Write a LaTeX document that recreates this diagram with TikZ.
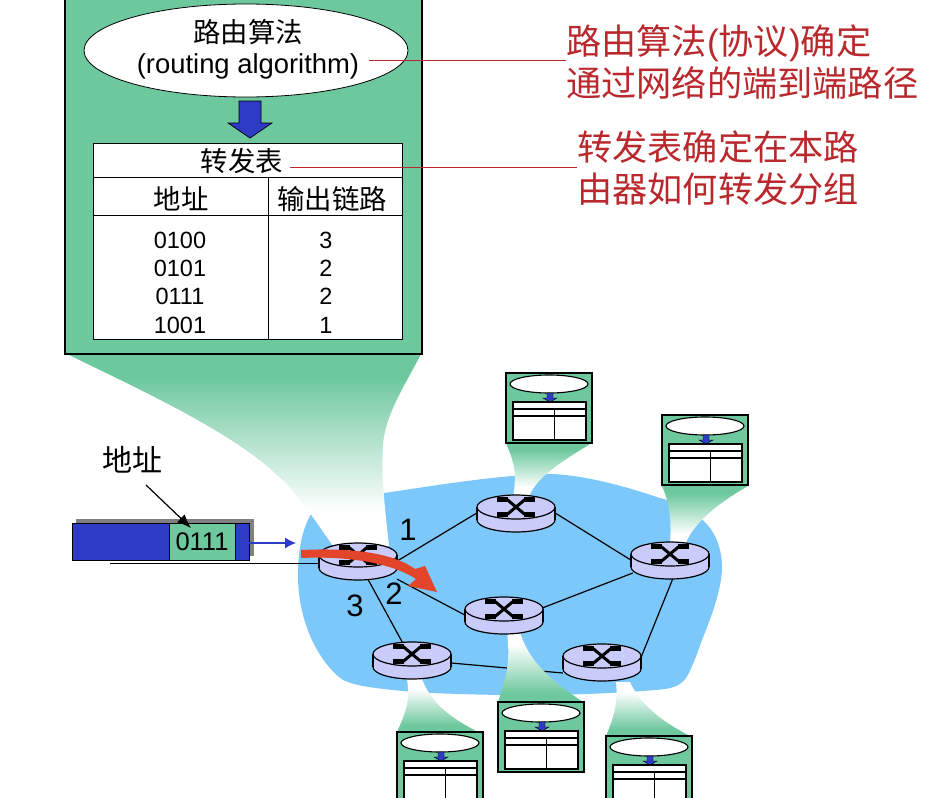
\documentclass[tikz,border=0pt]{standalone}
\usepackage{fontspec}
\setmainfont{Liberation Sans}
\newfontfamily\cjk{Noto Sans CJK SC}
\usepackage{tikz}
\usetikzlibrary{
  calc,%
  shapes.geometric,%
  arrows,
  arrows.meta,
  positioning
}
\definecolor{boxgreen}{HTML}{6DC89E}
\definecolor{cloudblue}{HTML}{7DC8FA}
\definecolor{routerlilac}{HTML}{C9CBFA}
\definecolor{packetblue}{HTML}{2E3BC4}
\definecolor{noteRed}{HTML}{B8282C}
\definecolor{flowred}{HTML}{E2452A}
\pgfdeclareverticalshading{fadedown}{100bp}{color(0bp)=(white); color(34bp)=(white); color(69bp)=(boxgreen); color(100bp)=(boxgreen)}
\pgfdeclareverticalshading{fadeup}{100bp}{color(0bp)=(boxgreen); color(31bp)=(boxgreen); color(66bp)=(white); color(100bp)=(white)}
\tikzset{>=latex}
\tikzset{tablebox/.style={draw=black, fill=boxgreen, line width=1.5pt}}
\tikzset{blockarrow/.style={draw=black, fill=packetblue, line width=0.7pt}}
\tikzset{link/.style={line width=1.2pt}}
\tikzset{leader/.style={noteRed, line width=0.9pt}}
\tikzset{funneldown/.style={shading=fadedown}}
\tikzset{funnelup/.style={shading=fadeup}}
\tikzset{notetext/.style={noteRed, align=left, inner sep=0pt, font=\fontsize{35.2}{42}\selectfont}}
\tikzset{cell/.style={inner sep=0pt, font=\fontsize{23.5}{28}\selectfont}}
\tikzset{cjkcell/.style={inner sep=0pt, font=\fontsize{27.4}{30}\selectfont\cjk}}
\tikzset{portnum/.style={inner sep=0pt, font=\fontsize{31}{34}\selectfont}}
\tikzset{router/.pic={
  \draw[line width=1.2pt, fill=routerlilac] (0,7) ellipse [x radius=39, y radius=12];
  \fill[routerlilac] (-39,-6) rectangle (39,7);
  \draw[line width=1.2pt] (-39,-6) -- (-39,7) (39,-6) -- (39,7);
  \draw[line width=1.2pt, fill=routerlilac] (0,-6) ellipse [x radius=39, y radius=12];
  \draw[line width=3pt] (-9,-13.5) -- (9,1.5) (-9,1.5) -- (9,-13.5);
  \draw[line width=4.6pt] (-19,-13.5) -- (-8,-13.5) (8,-13.5) -- (19,-13.5) (-19,1.5) -- (-8,1.5) (8,1.5) -- (19,1.5);
}}
\tikzset{smalltable/.pic={
  \draw[tablebox] (0,0) rectangle (86,70);
  \draw[fill=white, line width=1.1pt] (43,11) ellipse [x radius=39, y radius=9];
  \draw[blockarrow, line width=0.4pt] (41,20) -- (47,20) -- (47,25) -- (51,25) -- (44,29) -- (37,25) -- (41,25) -- cycle;
  \draw[fill=white, line width=1.2pt] (7,29) rectangle (80,67);
  \draw[line width=1.1pt] (7,36) -- (80,36) (7,43) -- (80,43) (48.5,36) -- (48.5,67);
}}

\begin{document}
\begin{tikzpicture}[x=1pt, y=-1pt]
  \useasboundingbox (0,0) rectangle (932,798);
  \clip (0,0) rectangle (932,798);

  % network cloud
  \fill[cloudblue] (298,575) .. controls (298,550) and (302,530) .. (311,514)
    .. controls (335,503) and (360,497) .. (384,493)
    .. controls (420,488) and (500,474) .. (553,474)
    .. controls (590,476) and (630,488) .. (660,498)
    .. controls (680,503) and (692,511) .. (700,518)
    .. controls (716,530) and (722,550) .. (722,567)
    .. controls (722,590) and (710,620) .. (702,640)
    .. controls (695,660) and (690,672) .. (686,678)
    .. controls (680,686) and (672,689) .. (655,690)
    .. controls (620,693) and (560,696) .. (500,695)
    .. controls (450,694) and (420,693) .. (393,690)
    .. controls (375,688) and (355,686) .. (343,680)
    .. controls (325,668) and (298,630) .. (298,575) -- cycle;

  \node[minimum width=78pt, minimum height=36pt] (routerA) at (358,561) {};
  \node[minimum width=78pt, minimum height=36pt] (routerB) at (516,513) {};
  \node[minimum width=78pt, minimum height=36pt] (routerC) at (670,560) {};
  \node[minimum width=78pt, minimum height=36pt] (routerD) at (504,615) {};
  \node[minimum width=78pt, minimum height=36pt] (routerE) at (412,660) {};
  \node[minimum width=78pt, minimum height=36pt] (routerF) at (602,662) {};

  \draw[link] (routerA.east) -- (routerB.west); %
  \draw[link] (routerA.south east) -- (routerD.west); %
  \draw[link] (routerA.center) -- (routerE.center); %
  \draw[link] (routerB.east) -- (routerC.west); %
  \draw[link] ($(routerC.west)+(2,13)$) -- ($(routerD.east)+(-1,-7)$); %
  \draw[link] ($(routerC.south)+(3,0)$) -- ($(routerF.east)+(0,-5)$); %
  \draw[link] ($(routerE.east)+(0,3)$) -- ($(routerF.west)+(0,11)$); %

  % fading cones between routers and their tables
  \path[funneldown] (67,354) .. controls (130,385) and (230,430) .. (277,475)
    .. controls (295,490) and (315,520) .. (333,546) -- (389,546)
    .. controls (385,510) and (381,475) .. (383,445)
    .. controls (385,415) and (405,385) .. (421,354) -- cycle;
  \path[funneldown] (506,443) .. controls (512,458) and (518,470) .. (513,497) -- (529,497)
    .. controls (535,480) and (555,465) .. (592,443) -- cycle;
  \path[funneldown] (662,486) .. controls (668,500) and (672,515) .. (670,545) -- (685,545)
    .. controls (692,525) and (715,505) .. (748,486) -- cycle;
  \path[funnelup] (507,632) -- (520,632) .. controls (528,660) and (550,680) .. (583,702)
    -- (498,702) .. controls (505,680) and (511,665) .. (507,632) -- cycle;
  \path[funnelup] (407,679) -- (422,679) .. controls (430,700) and (445,715) .. (478,732)
    -- (397,732) .. controls (407,710) and (410,700) .. (407,679) -- cycle;
  \path[funnelup] (616,682) -- (630,682) .. controls (638,700) and (655,718) .. (690,736)
    -- (606,736) .. controls (615,715) and (618,700) .. (616,682) -- cycle;

  \pic at (routerA) {router};
  \pic at (routerB) {router};
  \pic at (routerC) {router};
  \pic at (routerD) {router};
  \pic at (routerE) {router};
  \pic at (routerF) {router};

  \pic at (506,373) {smalltable};
  \pic at (662,415) {smalltable};
  \pic at (498,702) {smalltable};
  \pic at (397,732) {smalltable};
  \pic at (606,736) {smalltable};

  % big forwarding box
  \draw[tablebox, line width=2.5pt] (65,-10) rectangle (422,354);
  \node[ellipse, draw, fill=white, line width=0.8pt, minimum width=324pt, minimum height=93pt, inner sep=0pt] (algo) at (246,50.5) {};
  \node[cjkcell] (algoname) at (248,32) {路由算法};
  \node[cell, font=\fontsize{27.4}{30}\selectfont] (algoeng) at (248,66) {(routing algorithm)};
  \draw[blockarrow] (239,101) -- (261,101) -- (261,123) -- (272,123) -- (250,138) -- (228,123) -- (239,123) -- cycle; %
  \draw[fill=white, line width=0.9pt] (93,143) rectangle (402,339); %
  \draw[line width=0.9pt] (93,177) -- (402,177); %
  \draw[line width=0.9pt] (93,215) -- (402,215); %
  \draw[line width=0.9pt] (268,177) -- (268,339); %
  \node[cjkcell] (tabletitle) at (242,161) {转发表};
  \node[cjkcell] (addrhead) at (181,199) {地址};
  \node[cjkcell] (porthead) at (332,199) {输出链路};
  \node[cell] (addrA) at (180,240) {0100};
  \node[cell] (addrB) at (180,268) {0101};
  \node[cell] (addrC) at (180,296) {0111};
  \node[cell] (addrD) at (180,325) {1001};
  \node[cell] (portA) at (326,240) {3};
  \node[cell] (portB) at (326,268) {2};
  \node[cell] (portC) at (326,296) {2};
  \node[cell] (portD) at (326,325) {1};

  % notes on the right
  \node[notetext, anchor=west] (algonote) at (566,62) {{\cjk 路由算法}({\cjk 协议}){\cjk 确定}\\{\cjk 通过网络的端到端路径}};
  \node[notetext, anchor=west] (tablenote) at (577,168.5) {{\cjk 转发表确定在本路}\\{\cjk 由器如何转发分组}};
  \coordinate (algoend) at (369,60);
  \coordinate (tableend) at (290,167);
  \draw[leader] (algoend) -- (algoend -| algonote.west); %
  \draw[leader] (tableend) -- (tableend -| tablenote.west); %

  % arriving packet
  \fill[gray] (76,519) rectangle (254,556);
  \draw[fill=packetblue, line width=0.9pt] (72,523) rectangle (249,560); %
  \node[draw, fill=boxgreen, line width=0.9pt, minimum width=66pt, minimum height=37pt, inner sep=0pt, font=\fontsize{25.5}{28}\selectfont] (packet) at (202,541.5) {0111};
  \node[inner sep=0pt, font=\fontsize{30}{34}\selectfont\cjk] (addrlabel) at (132,460) {地址};
  \coordinate (addrtail) at (146,485);
  \coordinate (addrtip) at (191,528);
  \draw[-{Latex[length=14pt, width=11pt]}, line width=1.2pt] (addrtail) -- (addrtip); %
  \coordinate (inend) at (296,543);
  \draw[-{Latex[length=11pt, width=11pt]}, packetblue, line width=1.2pt] (249,543) -- (inend); %
  \coordinate (wireend) at (110,563);
  \draw[line width=1pt] (wireend) -- (routerA.west |- wireend); %

  % path of the packet through the router
  \fill[flowred] (301,550) .. controls (345,548) and (390,551) .. (415,569)
    -- (425,566) -- (437,592) -- (408,586) -- (416,579)
    .. controls (390,562) and (345,556) .. (301,558) -- cycle;

  \node[portnum] (portone) at (408,530) {1};
  \node[portnum] (porttwo) at (394,594) {2};
  \node[portnum] (portthree) at (355,606) {3};
\end{tikzpicture}
\end{document}
